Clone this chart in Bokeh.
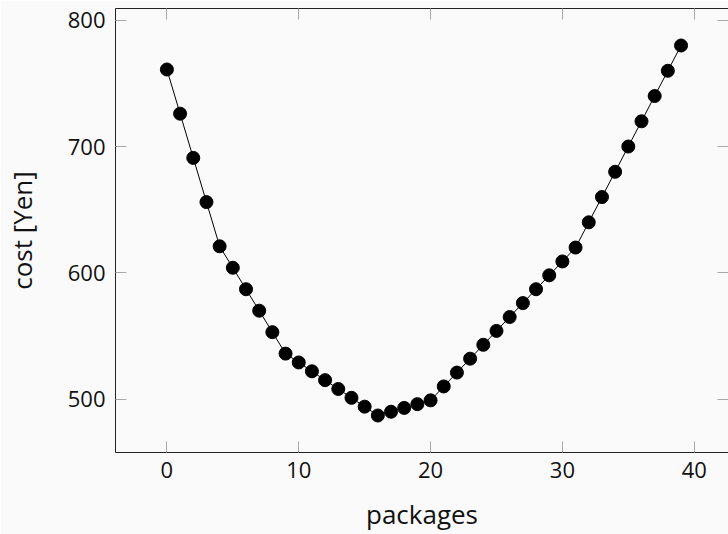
from bokeh.plotting import figure
from bokeh.models import LinearAxis, Range1d, FixedTicker
from bokeh.embed import file_html
from bokeh.resources import INLINE

packages = list(range(40))
cost = [761, 726, 691, 656, 621, 604, 587, 570, 553, 536,
        529, 522, 515, 508, 501, 494, 487, 490, 493, 496,
        499, 510, 521, 532, 543, 554, 565, 576, 587, 598,
        609, 620, 640, 660, 680, 700, 720, 740, 760, 780]
x_ticks = [0, 10, 20, 30, 40]
y_ticks = [500, 600, 700, 800]
x_label = "packages"
y_label = "cost [Yen]"

BG = "#fafafa"
TICK = "#a8a8a8"
FRAME = "#222222"
TXT = "#111111"
FONT = "Open Sans"

p = figure(width=728, height=534, output_backend="svg", toolbar_location=None,
           x_range=Range1d(-3.9, 42.6), y_range=Range1d(457.7, 809.3),
           min_border_left=115, min_border_right=0, min_border_top=8, min_border_bottom=79,
           background_fill_color=BG, border_fill_color=BG,
           outline_line_color=None,
           x_axis_label=x_label, y_axis_label=y_label)
p.grid.visible = False

p.line(packages, cost, line_color="black", line_width=1)
p.scatter(packages, cost, size=13, fill_color="black", line_color="black")

top = LinearAxis(major_label_overrides={t: "" for t in x_ticks})
right = LinearAxis(major_label_overrides={t: "" for t in y_ticks})
p.add_layout(top, "above")
p.add_layout(right, "right")

for ax in p.xaxis:
    ax.ticker = FixedTicker(ticks=x_ticks)
for ax in p.yaxis:
    ax.ticker = FixedTicker(ticks=y_ticks)

for ax in p.axis:
    ax.axis_line_color = FRAME
    ax.axis_line_width = 1
    ax.major_tick_in = 11
    ax.major_tick_out = 0
    ax.minor_tick_in = 0
    ax.minor_tick_out = 0
    ax.major_tick_line_color = TICK
    ax.major_tick_line_width = 1
    ax.major_label_text_font = FONT
    ax.major_label_text_font_size = "22px"
    ax.major_label_text_color = TXT
    ax.axis_label_text_font = FONT
    ax.axis_label_text_font_size = "26px"
    ax.axis_label_text_font_style = "normal"
    ax.axis_label_text_color = TXT

for ax in (top, right):
    ax.major_label_standoff = 0
    ax.major_label_text_font_size = "1px"
right.axis_line_color = None

bottom = p.below[0]
left = p.left[0]
bottom.major_label_standoff = 9
bottom.axis_label_standoff = 15
left.major_label_standoff = 10
left.axis_label_standoff = 25

open("out.html", "w").write(file_html(p, INLINE))
